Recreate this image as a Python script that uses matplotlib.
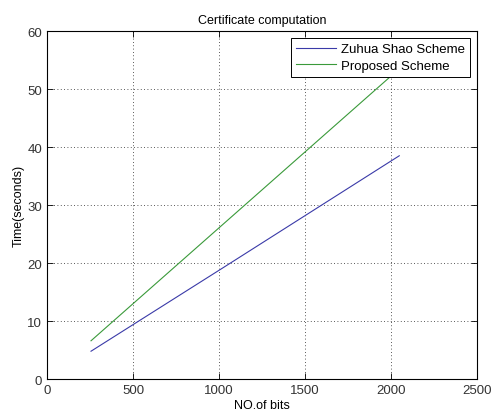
import matplotlib
matplotlib.use('Agg')
import matplotlib.pyplot as plt

bits = [256, 512, 1024, 2048]
shao_time = [4.8, 9.6, 19.2, 38.5]
proposed_time = [6.6, 13.3, 26.7, 53.5]

plt.rcParams['font.family'] = ['Liberation Sans', 'DejaVu Sans']

fig = plt.figure(figsize=(4.92, 4.14), dpi=100)
ax = fig.add_axes([0.0955, 0.082, 0.874, 0.8405])

ax.plot(bits, shao_time, color='#3a3aa8', linewidth=0.8, label='Zuhua Shao Scheme')
ax.plot(bits, proposed_time, color='#3a9a3a', linewidth=0.8, label='Proposed Scheme')

ax.set_xlim(0, 2500)
ax.set_ylim(0, 60)
ax.set_xticks(range(0, 2501, 500))
ax.set_yticks(range(0, 61, 10))
ax.grid(True, color='#222222', linestyle=(0, (1, 3)), linewidth=0.6)
ax.tick_params(direction='in', top=True, right=True, labelsize=9.5, length=4, width=0.6,
               labelcolor='#333333')
for s in ax.spines.values():
    s.set_linewidth(0.8)

ax.set_title('Certificate computation', fontsize=9, pad=6)
ax.set_xlabel('NO.of bits', fontsize=9, labelpad=2)
ax.set_ylabel('Time(seconds)', fontsize=9, labelpad=2)

leg = ax.legend(loc='upper right', fontsize=9.5, fancybox=False, edgecolor='black',
                framealpha=1, borderaxespad=0.5, handlelength=3.0, borderpad=0.4,
                labelspacing=0.35, handletextpad=0.4)
leg.get_frame().set_linewidth(0.7)

fig.savefig('out.png', dpi=100, facecolor='white')
